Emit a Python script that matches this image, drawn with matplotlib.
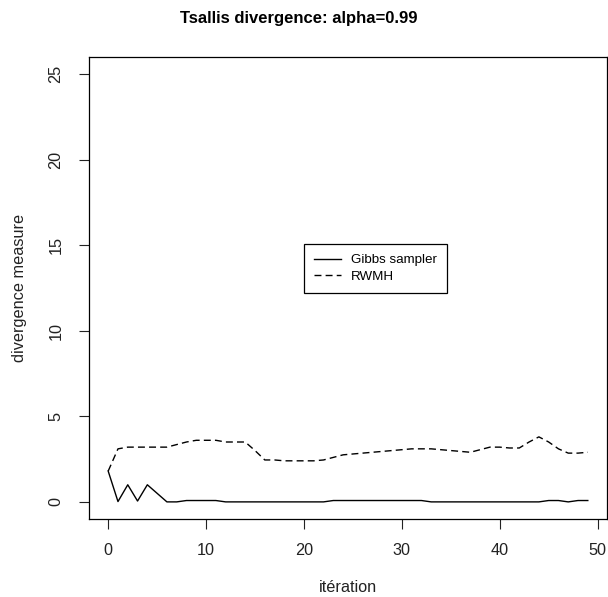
import numpy as np
import matplotlib
matplotlib.use("Agg")
import matplotlib.pyplot as plt

# values
iteration = list(range(50))
gibbs = [1.8, 0.02, 1.0, 0.05, 1.0, 0.5, 0.0, 0.0, 0.08, 0.08,
         0.08, 0.08, 0.0, 0.0, 0.0, 0.0, 0.0, 0.0, 0.0, 0.0,
         0.0, 0.0, 0.0, 0.08, 0.08, 0.08, 0.08, 0.08, 0.08, 0.08,
         0.08, 0.08, 0.08, 0.0, 0.0, 0.0, 0.0, 0.0, 0.0, 0.0,
         0.0, 0.0, 0.0, 0.0, 0.0, 0.08, 0.08, 0.0, 0.08, 0.08]
rwmh = [1.8, 3.1, 3.2, 3.2, 3.2, 3.2, 3.2, 3.35, 3.5, 3.6,
        3.6, 3.6, 3.5, 3.5, 3.5, 3.0, 2.45, 2.45, 2.4, 2.4,
        2.4, 2.4, 2.45, 2.6, 2.75, 2.8, 2.85, 2.9, 2.95, 3.0,
        3.05, 3.1, 3.1, 3.1, 3.05, 3.0, 2.95, 2.9, 3.05, 3.2,
        3.2, 3.15, 3.15, 3.5, 3.8, 3.5, 3.1, 2.85, 2.85, 2.9]
xticks = [0, 10, 20, 30, 40, 50]
yticks = [0, 5, 10, 15, 20, 25]

plt.rcParams['font.family'] = ['Liberation Sans', 'DejaVu Sans']
plt.rcParams['lines.scale_dashes'] = False

fig = plt.figure(figsize=(6.08, 5.97), dpi=100)
# plot box in pixels: left 89, right 607, top 57, bottom 519
ax = fig.add_axes([89 / 608, 78 / 597, 518 / 608, 462 / 597])

ax.plot(iteration, gibbs, color='black', lw=1.0, label='Gibbs sampler')
ax.plot(iteration, rwmh, color='black', lw=1.0, dashes=(5, 3), label='RWMH')

# R-style axes with 4% padding
ax.set_xlim(-1.96, 50.96)
ax.set_ylim(-1.0, 26.0)
ax.set_xticks(xticks)
ax.set_yticks(yticks)
ax.tick_params(direction='out', length=7, width=0.8, labelsize=11.7, colors='#222222')
ax.tick_params(axis='x', pad=10)
ax.tick_params(axis='y', pad=11.5)
plt.setp(ax.get_yticklabels(), rotation=90, va='center')
for s in ax.spines.values():
    s.set_linewidth(0.9)

ax.set_xlabel('itération', fontsize=11.7, color='#222222')
ax.set_ylabel('divergence measure', fontsize=11.7, color='#222222')
ax.xaxis.label.set_va('center')
ax.yaxis.label.set_va('center')
ax.xaxis.set_label_coords(0.5, (519 - 588) / 462)
ax.yaxis.set_label_coords((20 - 89) / 518, 0.5)
fig.text(299 / 608, 1 - 18 / 597, 'Tsallis divergence: alpha=0.99', fontsize=12,
         fontweight='bold', ha='center', va='center')

leg = ax.legend(loc='upper left', bbox_to_anchor=(215 / 518, 275 / 462), borderaxespad=0,
                fancybox=False, edgecolor='black', fontsize=9.6, handlelength=2.05,
                handletextpad=0.75, borderpad=0.75, labelspacing=0.3, framealpha=1)
leg.get_frame().set_linewidth(0.9)

fig.savefig('out.png', dpi=100)
